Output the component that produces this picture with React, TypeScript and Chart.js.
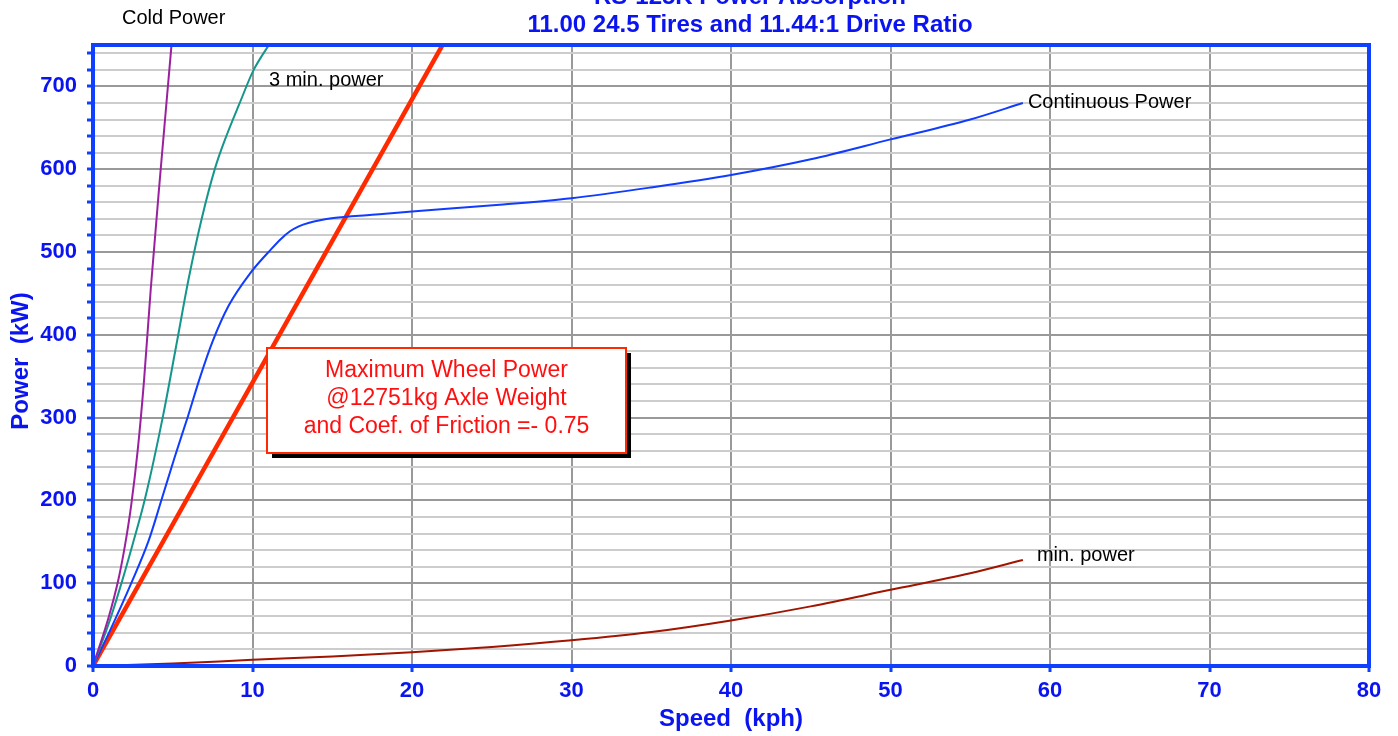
import React, { useEffect, useRef } from 'react';
import { Chart, registerables } from 'chart.js';

Chart.register(...registerables);

// ---------- data ----------
const titleLines = ['RS-125K Power Absorption', '11.00 24.5 Tires and 11.44:1 Drive Ratio'];
const xAxisTitle = 'Speed  (kph)';
const yAxisTitle = 'Power  (kW)';
const xTickValues = [0, 10, 20, 30, 40, 50, 60, 70, 80];
const yTickLabels = [0, 100, 200, 300, 400, 500, 600, 700];

const seriesNames = ['Cold Power', '3 min. power', 'Continuous Power', 'min. power', 'Maximum Wheel Power'];

const coldSpeed = [0, 1, 1.6, 2, 2.4, 2.8, 3.2, 3.62, 4.2, 4.9, 5.1];
const coldPower = [0, 60, 105, 145, 195, 260, 345, 455, 590, 745, 790];

const threeMinSpeed = [0, 1, 1.8, 2.5, 3.26, 4.4, 5.2, 6.0, 6.8, 7.65, 8.38, 9.2, 10.05, 11.03, 11.5];
const threeMinPower = [0, 52, 101, 148, 202, 303, 385, 468, 539, 601, 641, 680, 719, 750, 763];

const contSpeed = [0, 1, 2.42, 3.5, 4.3, 5.1, 5.96, 6.7, 7.5, 8.5, 9.84, 11.2, 11.8, 12.35, 12.9, 13.5, 15.07, 17.5, 20, 25.5, 30, 35, 40, 45, 50, 55, 58.3];
const contPower = [0, 40, 101, 152, 201, 251, 302, 348, 392, 435, 474, 504, 516, 525, 531, 535, 541, 545, 549, 557, 565, 578, 593, 612, 636, 660, 680];

const minSpeed = [0, 5, 10, 15, 20, 25, 30, 35, 40, 45, 50, 55, 58.3];
const minPower = [0, 3, 7.5, 11.5, 16.5, 23, 31, 41, 55, 72, 92, 112, 128];

const wheelSpeed = [0, 22.5];
const wheelPower = [0, 770];

const boxLines = ['Maximum Wheel Power', '@12751kg Axle Weight', 'and Coef. of Friction =- 0.75'];

// ---------- styles ----------
const BLUE_TEXT = '#0a14f0';
const FRAME = '#1040ff';
const FONT = '"Liberation Sans", Arial, Helvetica, sans-serif';

const toPts = (xs: number[], ys: number[]) => xs.map((x, i) => ({ x, y: ys[i] }));

const decorPlugin = {
  id: 'decor',
  afterDatasetsDraw(chart: any) {
    const { ctx, chartArea: a, scales } = chart;
    ctx.save();
    // frame
    ctx.strokeStyle = FRAME;
    ctx.lineWidth = 4;
    ctx.strokeRect(a.left, a.top, a.right - a.left, a.bottom - a.top);

    // curve labels
    ctx.fillStyle = '#000';
    ctx.font = `20px ${FONT}`;
    ctx.textAlign = 'left';
    ctx.textBaseline = 'alphabetic';
    ctx.fillText(seriesNames[0], 122, 24);
    ctx.fillText(seriesNames[1], 269, 86);
    const xs = scales.x, ys = scales.y;
    const cEnd = { x: xs.getPixelForValue(contSpeed[contSpeed.length - 1]), y: ys.getPixelForValue(contPower[contPower.length - 1]) };
    ctx.fillText(seriesNames[2], cEnd.x + 5, cEnd.y + 5);
    const mEnd = { x: xs.getPixelForValue(minSpeed[minSpeed.length - 1]), y: ys.getPixelForValue(minPower[minPower.length - 1]) };
    ctx.fillText(seriesNames[3], mEnd.x + 14, mEnd.y + 1);

    // annotation box
    const bx = 267, by = 348, bw = 359, bh = 105;
    ctx.fillStyle = '#000';
    ctx.fillRect(bx + 5, by + 5, bw, bh);
    ctx.fillStyle = '#fff';
    ctx.fillRect(bx, by, bw, bh);
    ctx.strokeStyle = '#ff2a00';
    ctx.lineWidth = 2;
    ctx.strokeRect(bx, by, bw, bh);
    ctx.fillStyle = '#ff1010';
    ctx.font = `23px ${FONT}`;
    ctx.textAlign = 'center';
    const cx = bx + bw / 2;
    ctx.fillText(boxLines[0], cx, 377);
    ctx.fillText(boxLines[1], cx, 405);
    ctx.fillText(boxLines[2], cx, 433);

    // title
    ctx.fillStyle = BLUE_TEXT;
    ctx.font = `bold 24px ${FONT}`;
    ctx.fillText(titleLines[0], 750, 4);
    ctx.fillText(titleLines[1], 750, 32);

    // axis titles
    ctx.font = `bold 24px ${FONT}`;
    ctx.fillText(xAxisTitle, 731, 726);
    ctx.save();
    ctx.translate(28, 361);
    ctx.rotate(-Math.PI / 2);
    ctx.fillText(yAxisTitle, 0, 0);
    ctx.restore();

    ctx.restore();
  },
};

export default function App() {
  const ref = useRef<HTMLCanvasElement | null>(null);

  useEffect(() => {
    if (!ref.current) return;
    const chart = new Chart(ref.current, {
      type: 'line',
      data: {
        datasets: [
          { label: seriesNames[0], data: toPts(coldSpeed, coldPower), borderColor: '#9a20a0', borderWidth: 2, pointRadius: 0, cubicInterpolationMode: 'monotone', fill: false },
          { label: seriesNames[1], data: toPts(threeMinSpeed, threeMinPower), borderColor: '#14968c', borderWidth: 2, pointRadius: 0, cubicInterpolationMode: 'monotone', fill: false },
          { label: seriesNames[2], data: toPts(contSpeed, contPower), borderColor: '#0f3cff', borderWidth: 2, pointRadius: 0, cubicInterpolationMode: 'monotone', fill: false },
          { label: seriesNames[3], data: toPts(minSpeed, minPower), borderColor: '#a01400', borderWidth: 2, pointRadius: 0, cubicInterpolationMode: 'monotone', fill: false },
          { label: seriesNames[4], data: toPts(wheelSpeed, wheelPower), borderColor: '#ff2a00', borderWidth: 4.5, pointRadius: 0, fill: false },
        ],
      },
      options: {
        animation: false,
        responsive: false,
        maintainAspectRatio: false,
        layout: { padding: { top: 45, right: 29, left: 0, bottom: 0 } },
        plugins: { legend: { display: false }, title: { display: false }, tooltip: { enabled: false } },
        scales: {
          x: {
            type: 'linear',
            min: 0,
            max: 80,
            afterBuildTicks: (s: any) => { s.ticks = xTickValues.map((v) => ({ value: v })); },
            afterFit: (s: any) => { s.height = 70; },
            border: { display: false },
            grid: { color: '#999999', lineWidth: 2, tickColor: FRAME, tickWidth: 3, tickLength: 6 },
            ticks: { color: BLUE_TEXT, font: { family: FONT, size: 22, weight: 'bold' }, padding: 6, maxRotation: 0, autoSkip: false },
          },
          y: {
            type: 'linear',
            min: 0,
            max: 750,
            afterBuildTicks: (s: any) => {
              const t: any[] = [];
              for (let v = 0; v <= 740; v += 20) t.push({ value: v });
              s.ticks = t;
            },
            afterFit: (s: any) => { s.width = 93; },
            border: { display: false },
            grid: {
              color: (c: any) => (c.tick && c.tick.value % 100 === 0 ? '#999999' : '#cccccc'),
              lineWidth: 2,
              tickColor: FRAME,
              tickWidth: 3,
              tickLength: 6,
            },
            ticks: {
              color: BLUE_TEXT,
              font: { family: FONT, size: 22, weight: 'bold' },
              padding: 10,
              autoSkip: false,
              callback: (v: any) => (yTickLabels.includes(Number(v)) ? String(v) : ''),
            },
          },
        },
      },
      plugins: [decorPlugin],
    });
    return () => chart.destroy();
  }, []);

  return (
    <div style={{ position: 'fixed', left: 0, top: 0, width: 1398, height: 736, background: '#fff' }}>
      <canvas ref={ref} width={1398} height={736} style={{ width: 1398, height: 736, display: 'block' }} />
    </div>
  );
}
